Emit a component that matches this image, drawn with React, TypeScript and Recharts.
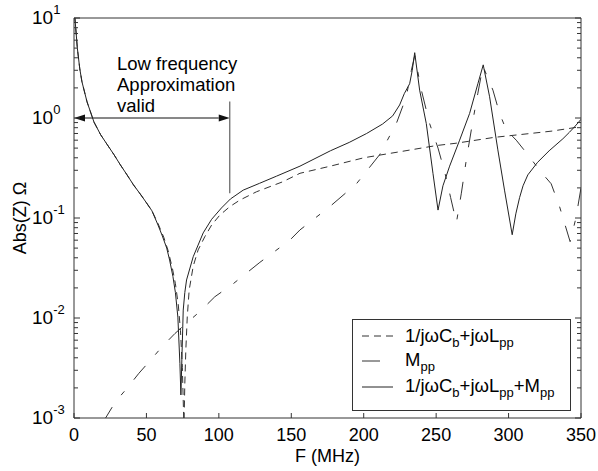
import React from "react";
import { LineChart, Line, XAxis, YAxis, ReferenceLine } from "recharts";

const FONT = '"Liberation Sans", Arial, Helvetica, sans-serif';
const AXIS = "#333";

// 1/jωCb + jωLpp  (short dashes)
const lcFreq = [0.5, 1.2, 2.3, 4, 5.5, 9, 13.8, 18.4, 23, 27.6, 32, 36.6, 41, 46.2, 50, 53.8, 58, 62, 65, 68, 70, 72, 73.5, 74.8, 75.9, 76.5, 77.2, 78.2, 79.5, 82.3, 85.7, 90.3, 95, 100.7, 107.6, 114.5, 126, 144, 156, 177, 200, 225, 250, 264, 290, 315, 330, 350];
const lcAbs = [10.5, 7.9, 5.0, 3.1, 2.3, 1.45, 0.91, 0.68, 0.54, 0.43, 0.34, 0.27, 0.215, 0.17, 0.142, 0.118, 0.088, 0.064, 0.047, 0.031, 0.022, 0.0135, 0.0075, 0.0032, 0.0008, 0.0022, 0.0048, 0.0103, 0.019, 0.033, 0.048, 0.065, 0.085, 0.107, 0.13, 0.151, 0.183, 0.23, 0.28, 0.33, 0.4, 0.46, 0.53, 0.56, 0.64, 0.7, 0.74, 0.82];

// Mpp  (dash-dot)
const mFreq = [20, 21.8, 28.7, 36.8, 44.8, 52.9, 61, 69.7, 77.7, 86.9, 97.2, 109.9, 128.3, 149, 156, 176.6, 195, 211, 222.5, 229.4, 232.9, 235.2, 239.8, 245.5, 251.3, 253.6, 257, 260, 264, 267.4, 270.8, 275.4, 278.8, 282.3, 289.2, 293.8, 298.4, 305.3, 313.3, 321.4, 329.4, 335.2, 342.5, 346.5, 350];
const mAbs = [0.0009, 0.001, 0.00146, 0.002, 0.0028, 0.0038, 0.0052, 0.007, 0.0089, 0.0116, 0.0163, 0.022, 0.036, 0.06, 0.076, 0.13, 0.22, 0.43, 0.88, 1.63, 3.0, 4.2, 1.9, 0.88, 0.5, 0.38, 0.25, 0.16, 0.09, 0.177, 0.38, 0.95, 1.77, 3.3, 1.9, 1.11, 0.76, 0.6, 0.43, 0.3, 0.22, 0.13, 0.058, 0.1, 0.2];

// 1/jωCb + jωLpp + Mpp  (solid)
const sumFreq = [0.5, 1.2, 2.3, 4, 5.5, 9, 13.8, 18.4, 23, 27.6, 32, 36.6, 41, 46.2, 50, 53.8, 58, 61, 64, 66, 68.3, 70, 71.7, 73.1, 73.8, 74.5, 75.4, 76.5, 77.7, 82.3, 89.2, 95, 101.8, 108, 116.8, 128, 139.8, 156, 177, 190, 202, 213, 220, 224.8, 228, 231.7, 233.5, 235.2, 238.6, 243.2, 247.8, 251.3, 254.7, 259.3, 266.2, 273.1, 278.8, 282.5, 286.9, 292.6, 297.2, 302.5, 305, 307.6, 310, 313.3, 320, 328, 337.5, 342, 346, 350];
const sumAbs = [10.5, 7.9, 5.0, 3.1, 2.3, 1.45, 0.91, 0.68, 0.54, 0.43, 0.34, 0.27, 0.215, 0.17, 0.142, 0.118, 0.085, 0.066, 0.05, 0.038, 0.026, 0.018, 0.0102, 0.0035, 0.0017, 0.004, 0.012, 0.018, 0.024, 0.041, 0.071, 0.097, 0.126, 0.155, 0.19, 0.222, 0.262, 0.33, 0.47, 0.57, 0.7, 0.87, 1.05, 1.35, 1.75, 2.2, 3.0, 4.5, 1.9, 0.88, 0.28, 0.12, 0.21, 0.33, 0.6, 1.11, 2.2, 3.4, 1.63, 0.48, 0.19, 0.068, 0.11, 0.16, 0.21, 0.27, 0.36, 0.47, 0.62, 0.72, 0.83, 0.97];

const xTicks = [0, 50, 100, 150, 200, 250, 300, 350];
const yMajor = [0.001, 0.01, 0.1, 1, 10];
const yExpLabels = ["-3", "-2", "-1", "0", "1"];
const yMinorSteps = [2, 3, 4, 5, 6, 7, 8, 9];

// annotation: low-frequency approximation limit
const approxLimit = 107.5;
const approxArrowY = 1;
const approxMarkTop = 1.46;
const approxMarkBottom = 0.177;

const toPts = (f: number[], v: number[]) => f.map((x, i) => ({ f: x, v: v[i] }));
const lcData = toPts(lcFreq, lcAbs);
const mData = toPts(mFreq, mAbs);
const sumData = toPts(sumFreq, sumAbs);

const yTicks: number[] = [];
yMajor.forEach((d, i) => {
  yTicks.push(d);
  if (i < yMajor.length - 1) yMinorSteps.forEach((s) => yTicks.push(d * s));
});

const majorIndex = (v: number) =>
  yMajor.findIndex((m) => Math.abs(Math.log10(v) - Math.log10(m)) < 1e-6);

function LeftTick(props: any) {
  const { x, y, payload } = props;
  const idx = majorIndex(payload.value);
  const major = idx >= 0;
  return (
    <g>
      <line x1={x} x2={x + (major ? 6 : 4)} y1={y} y2={y} stroke={AXIS} />
      {major && (
        <text x={x - 42} y={y + 6} fontSize={19} fill="#000" fontFamily={FONT}>
          10
          <tspan dy={-10} fontSize={13}>
            {yExpLabels[idx]}
          </tspan>
        </text>
      )}
    </g>
  );
}

function RightTick(props: any) {
  const { x, y, payload } = props;
  const major = majorIndex(payload.value) >= 0;
  return <line x1={x} x2={x - (major ? 6 : 4)} y1={y} y2={y} stroke={AXIS} />;
}

function BottomTick(props: any) {
  const { x, y, payload } = props;
  return (
    <g>
      <line x1={x} x2={x} y1={y} y2={y - 5} stroke={AXIS} />
      <text x={x} y={y + 23} textAnchor="middle" fontSize={18} fill="#000" fontFamily={FONT}>
        {payload.value}
      </text>
    </g>
  );
}

function TopTick(props: any) {
  const { x, y } = props;
  return <line x1={x} x2={x} y1={y} y2={y + 5} stroke={AXIS} />;
}

function DoubleArrow(props: any) {
  const { x1, y1, x2, y2 } = props;
  const h = 11;
  const w = 3.5;
  return (
    <g>
      <line x1={x1 + h} y1={y1} x2={x2 - h} y2={y2} stroke="#111" strokeWidth={1} />
      <polygon points={`${x1},${y1} ${x1 + h},${y1 - w} ${x1 + h},${y1 + w}`} fill="#111" />
      <polygon points={`${x2},${y2} ${x2 - h},${y2 - w} ${x2 - h},${y2 + w}`} fill="#111" />
    </g>
  );
}

function Sub({ children }: { children: React.ReactNode }) {
  return (
    <tspan fontSize={13} dy={5}>
      {children}
    </tspan>
  );
}

function Up({ children }: { children: React.ReactNode }) {
  return (
    <tspan fontSize={18.5} dy={-5}>
      {children}
    </tspan>
  );
}

export default function App() {
  return (
    <div style={{ position: "absolute", left: 0, top: 0, width: 598, height: 471, background: "#fff", fontFamily: FONT }}>
      <LineChart width={598} height={471} margin={{ top: 0, right: 0, bottom: 0, left: 0 }}>
        <XAxis
          dataKey="f"
          type="number"
          domain={[0, 350]}
          ticks={xTicks}
          interval={0}
          allowDataOverflow
          height={53}
          tickSize={0}
          tickMargin={0}
          tickLine={false}
          axisLine={{ stroke: AXIS }}
          tick={<BottomTick />}
          label={{ value: "F (MHz)", position: "insideBottom", offset: 9, fill: "#000", fontSize: 18, fontFamily: FONT }}
        />
        <XAxis
          xAxisId="top"
          orientation="top"
          dataKey="f"
          type="number"
          domain={[0, 350]}
          ticks={xTicks}
          interval={0}
          height={18}
          tickSize={0}
          tickMargin={0}
          tickLine={false}
          axisLine={{ stroke: AXIS }}
          tick={<TopTick />}
        />
        <YAxis
          dataKey="v"
          scale="log"
          domain={[0.001, 10]}
          ticks={yTicks}
          interval={0}
          allowDataOverflow
          width={74}
          tickSize={0}
          tickMargin={0}
          tickLine={false}
          axisLine={{ stroke: AXIS }}
          tick={<LeftTick />}
          label={{ value: "Abs(Z) Ω", angle: -90, position: "insideLeft", offset: 20, fill: "#000", fontSize: 18, fontFamily: FONT, style: { textAnchor: "middle" } }}
        />
        <YAxis
          yAxisId="right"
          orientation="right"
          scale="log"
          domain={[0.001, 10]}
          ticks={yTicks}
          interval={0}
          allowDataOverflow
          width={17}
          tickSize={0}
          tickMargin={0}
          tickLine={false}
          axisLine={{ stroke: AXIS }}
          tick={<RightTick />}
        />
        <Line data={mData} dataKey="v" type="linear" stroke="#333" strokeWidth={1} strokeDasharray="18 15 5 15" dot={false} activeDot={false} isAnimationActive={false} />
        <Line data={lcData} dataKey="v" type="linear" stroke="#333" strokeWidth={1} strokeDasharray="7 5" dot={false} activeDot={false} isAnimationActive={false} />
        <Line data={sumData} dataKey="v" type="linear" stroke="#222" strokeWidth={1} dot={false} activeDot={false} isAnimationActive={false} />
        <ReferenceLine segment={[{ x: 0, y: approxArrowY }, { x: approxLimit, y: approxArrowY }]} shape={DoubleArrow} />
        <ReferenceLine segment={[{ x: approxLimit, y: approxMarkTop }, { x: approxLimit, y: approxMarkBottom }]} stroke="#777" strokeWidth={1.4} />
      </LineChart>

      <svg width={598} height={471} style={{ position: "absolute", left: 0, top: 0, pointerEvents: "none" }} fontFamily={FONT}>
        <g fontSize={18.5} fill="#000">
          <text x={117} y={70}>Low frequency</text>
          <text x={117} y={91}>Approximation</text>
          <text x={117} y={112}>valid</text>
        </g>
        <rect x={352.5} y={319.5} width={218} height={91} fill="#fff" stroke={AXIS} />
        <line x1={362} x2={393} y1={336} y2={336} stroke="#333" strokeDasharray="7 5" />
        <line x1={362} x2={393} y1={361} y2={361} stroke="#333" strokeDasharray="18 15 5 15" />
        <line x1={362} x2={393} y1={387} y2={387} stroke="#222" />
        <g fontSize={18.5} fill="#000">
          <text x={405} y={342}>
            1/jωC<Sub>b</Sub><Up>+jωL</Up><Sub>pp</Sub>
          </text>
          <text x={405} y={366}>
            M<Sub>pp</Sub>
          </text>
          <text x={405} y={392}>
            1/jωC<Sub>b</Sub><Up>+jωL</Up><Sub>pp</Sub><Up>+M</Up><Sub>pp</Sub>
          </text>
        </g>
      </svg>
    </div>
  );
}
